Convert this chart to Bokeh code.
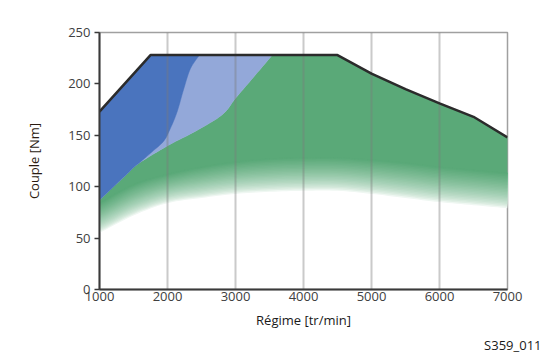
import numpy as np
from bokeh.plotting import figure
from bokeh.models import Range1d, FixedTicker, Title
from bokeh.embed import file_html
from bokeh.resources import INLINE

# ---- data ----
env_rpm = [1000, 1750, 4500, 5000, 5500, 6000, 6500, 7000]
env_torque = [173, 228, 228, 210, 195, 181, 168, 148]

# boundary between dark blue and light blue
db_rpm = [1578, 1774, 1946, 2044, 2142, 2240, 2338, 2470]
db_torque = [122.7, 134, 144.5, 157, 173, 195.4, 215, 228]

# upper boundary of the green area (below the blue areas)
gt_rpm = [1000, 1382, 1578, 2019, 2412, 2804, 3000, 3245, 3540]
gt_torque = [87, 111, 122.7, 140.5, 154, 170, 186, 205, 228]

# green fade (solid down to fade_top, white at fade_bot)
fade_rpm = [1000, 1500, 2000, 2500, 3000, 3500, 4000, 4500, 5000, 5500, 6000, 6500, 7000]
fade_top = [84, 102, 112, 119, 124, 127, 128, 128, 126, 123, 119, 116, 113]
fade_bot = [55, 72, 84, 89, 93, 95, 96, 96, 93, 89, 85, 82, 79]

x_ticks = [1000, 2000, 3000, 4000, 5000, 6000, 7000]
y_ticks = [0, 50, 100, 150, 200, 250]
grid_lines = [2000, 3000, 4000, 5000, 6000]

DARK_BLUE = "#4a74be"
LIGHT_BLUE = "#93a8d9"
GREEN = "#5aa978"
FONT = "Open Sans"


def smooth(xs, ys, k=8):
    """Catmull-Rom curve through the given points (for drawing only)."""
    P = np.column_stack([xs, ys]).astype(float)
    P = np.vstack([P[0], P, P[-1]])
    out = []
    for i in range(1, len(P) - 2):
        p0, p1, p2, p3 = P[i - 1], P[i], P[i + 1], P[i + 2]
        for t in np.linspace(0, 1, k, endpoint=False):
            t2, t3 = t * t, t * t * t
            pt = 0.5 * ((2 * p1) + (-p0 + p2) * t + (2 * p0 - 5 * p1 + 4 * p2 - p3) * t2
                        + (-p0 + 3 * p1 - 3 * p2 + p3) * t3)
            out.append(pt)
    out.append(P[-2])
    out = np.array(out)
    return list(out[:, 0]), list(out[:, 1])


def env_seg(x0, x1):
    xs = [x0] + [x for x in env_rpm if x0 < x < x1] + [x1]
    ys = [float(np.interp(x, env_rpm, env_torque)) for x in xs]
    return xs, ys


db_x, db_y = smooth(db_rpm, db_torque)
gt_x, gt_y = smooth(gt_rpm, gt_torque)
fs_x, fs_top = smooth(fade_rpm, fade_top)
_, fs_bot = smooth(fade_rpm, fade_bot)

p = figure(width=545, height=353, output_backend="svg", toolbar_location=None,
           x_range=Range1d(1000, 7000), y_range=Range1d(0, 250),
           min_border_left=99, min_border_right=38, min_border_top=32,
           min_border_bottom=0)
p.outline_line_color = "#a0a0a0"
p.outline_line_width = 1.5
p.background_fill_color = "white"
p.border_fill_color = "white"

# ---- green gradient (drawn as nested layers, lightest first) ----
N = 24
fr = np.array(fs_x, float)
ft = np.array(fs_top, float)
fb = np.array(fs_bot, float)
g = np.array([int(GREEN[i:i + 2], 16) for i in (1, 3, 5)], float)
for i in range(N, 0, -1):
    t = i / N
    lower = ft - t * (ft - fb)
    a = 1 - (t - 0.5 / N)
    a = max(0.0, min(1.0, a)) ** 0.6
    c = g * a + 255 * (1 - a)
    col = "#%02x%02x%02x" % tuple(int(round(v)) for v in c)
    p.varea(x=fr, y1=lower, y2=ft + 0.5, fill_color=col)

# ---- solid green: from fade_top up to blue boundary / envelope ----
ex, ey = env_seg(gt_rpm[-1], 7000)
gx = gt_x + ex[1:] + fs_x[::-1]
gy = gt_y + ey[1:] + fs_top[::-1]
p.patch(gx, gy, fill_color=GREEN, line_color=GREEN, line_width=0.5)

# ---- light blue ----
ex, ey = env_seg(1000, gt_rpm[-1])
lx = ex + gt_x[::-1][1:]
ly = ey + gt_y[::-1][1:]
p.patch(lx, ly, fill_color=LIGHT_BLUE, line_color=LIGHT_BLUE, line_width=0.5)

# ---- dark blue ----
ex, ey = env_seg(1000, db_rpm[-1])
gi = [i for i, x in enumerate(gt_x) if x <= db_rpm[0] + 1e-6]
dx = ex + db_x[::-1][1:] + [gt_x[i] for i in gi[::-1]][1:]
dy = ey + db_y[::-1][1:] + [gt_y[i] for i in gi[::-1]][1:]
p.patch(dx, dy, fill_color=DARK_BLUE, line_color=DARK_BLUE, line_width=0.5)

# ---- vertical grid lines over the fills ----
p.segment(x0=grid_lines, y0=[0] * len(grid_lines), x1=grid_lines, y1=[250] * len(grid_lines),
          line_color="#7a7a7a", line_alpha=0.4, line_width=2)

# ---- envelope ----
p.line(env_rpm, env_torque, line_color="#2b2b2b", line_width=2.5, line_join="round")

p.xgrid.grid_line_color = None
p.ygrid.grid_line_color = None

for ax in (p.xaxis, p.yaxis):
    ax.axis_line_color = "#3a3a3a"
    ax.axis_line_width = 2
    ax.major_tick_line_color = "#3a3a3a"
    ax.major_tick_line_width = 1.5
    ax.minor_tick_line_color = None
    ax.major_label_text_font = FONT
    ax.major_label_text_font_size = "13px"
    ax.major_label_text_color = "#404040"
    ax.axis_label_text_font = FONT
    ax.axis_label_text_font_size = "13px"
    ax.axis_label_text_font_style = "normal"

p.xaxis.ticker = FixedTicker(ticks=x_ticks)
p.yaxis.ticker = FixedTicker(ticks=y_ticks)
p.xaxis.major_tick_out = 0
p.xaxis.major_tick_in = 0
p.yaxis.major_tick_out = 5
p.yaxis.major_tick_in = 0
p.xaxis.major_label_standoff = 2
p.yaxis.major_label_standoff = 4
p.yaxis.axis_label = "Couple [Nm]"
p.yaxis.axis_label_text_color = "#2a1a10"
p.yaxis.axis_label_standoff = 22

p.add_layout(Title(text="Régime [tr/min]", align="center", standoff=10,
                   text_font=FONT, text_font_size="13px", text_font_style="normal",
                   text_color="#1a1a1a"), "below")
p.add_layout(Title(text="S359_011", align="right", offset=-34, standoff=0,
                   text_font=FONT, text_font_size="13px", text_font_style="normal",
                   text_color="#1a1a1a"), "below")

open("out.html", "w").write(file_html(p, INLINE))
